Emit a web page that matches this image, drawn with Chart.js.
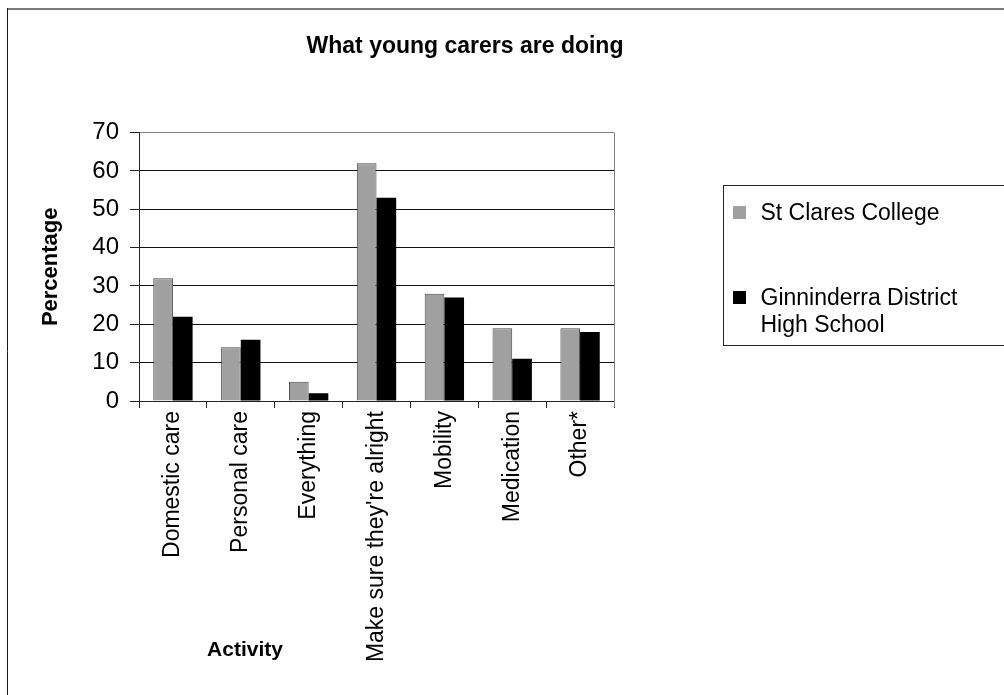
<!DOCTYPE html>
<html>
<head>
<meta charset="utf-8">
<script src="https://cdn.jsdelivr.net/npm/chart.js@4.4.1/dist/chart.umd.min.js"></script>
<style>
  html, body { margin: 0; padding: 0; background: #fff; }
  #wrap { width: 1004px; height: 695px; position: relative; }
</style>
</head>
<body>
<div id="wrap"><canvas id="c" width="1004" height="695"></canvas></div>
<script>
// Chart text
const chartTitle = 'What young carers are doing';
const axisTitleY = 'Percentage';
const axisTitleX = 'Activity';

// Categories and series
const activities = ['Domestic care', 'Personal care', 'Everything', "Make sure they're alright", 'Mobility', 'Medication', 'Other*'];
const seriesNames = ['St Clares College', 'Ginninderra District High School'];
const stClares = [32, 14, 5, 62, 28, 19, 19];
const ginninderra = [22, 16, 2, 53, 27, 11, 18];
const yTicks = [0, 10, 20, 30, 40, 50, 60, 70];

const FONT = "'Liberation Sans', Arial, Helvetica, sans-serif";

// Page frame: grey rule along the top, dark rule down the left side
const pageFrame = {
  id: 'pageFrame',
  beforeDraw(chart) {
    const ctx = chart.ctx;
    ctx.save();
    ctx.fillStyle = '#fff';
    ctx.fillRect(0, 0, chart.width, chart.height);
    ctx.strokeStyle = '#7a7a7a';
    ctx.lineWidth = 2;
    ctx.beginPath();
    ctx.moveTo(7, 9);
    ctx.lineTo(chart.width, 9);
    ctx.stroke();
    ctx.strokeStyle = '#1a1a1a';
    ctx.lineWidth = 1;
    ctx.beginPath();
    ctx.moveTo(7.5, 8);
    ctx.lineTo(7.5, chart.height);
    ctx.stroke();
    ctx.restore();
  }
};

// Grey right-hand edge of the plot area
const plotEdge = {
  id: 'plotEdge',
  beforeDatasetsDraw(chart) {
    const { ctx, chartArea } = chart;
    const x = Math.round(chartArea.right) + 0.5;
    ctx.save();
    ctx.strokeStyle = '#808080';
    ctx.lineWidth = 1;
    ctx.beginPath();
    ctx.moveTo(x, chartArea.top);
    ctx.lineTo(x, chartArea.bottom + 6);
    ctx.stroke();
    ctx.restore();
  }
};

// Category axis caption, sitting beside the rotated labels
const categoryCaption = {
  id: 'categoryCaption',
  afterDraw(chart) {
    const { ctx, chartArea } = chart;
    ctx.save();
    ctx.fillStyle = '#000';
    ctx.font = 'bold 21px ' + FONT;
    ctx.textAlign = 'center';
    ctx.textBaseline = 'middle';
    ctx.fillText(axisTitleX, chartArea.left + 106, 650);
    ctx.restore();
  }
};

// Boxed legend to the right of the plot, with wrapped series names
const sideLegend = {
  id: 'sideLegend',
  afterDraw(chart) {
    const { ctx, chartArea } = chart;
    const boxX = Math.round(chartArea.right) + 109.5;
    const boxTop = 185.5, boxBottom = 345.5;
    ctx.save();
    ctx.strokeStyle = '#222';
    ctx.lineWidth = 1;
    ctx.strokeRect(boxX, boxTop, chart.width + 20 - boxX, boxBottom - boxTop);

    ctx.font = '23px ' + FONT;
    ctx.textBaseline = 'alphabetic';
    ctx.textAlign = 'left';
    const maxW = 215;
    const rowBases = [220, 305];
    chart.data.datasets.forEach((ds, i) => {
      const base = rowBases[i];
      ctx.fillStyle = ds.backgroundColor;
      ctx.fillRect(boxX + 9.5, base - 14, 13, 13);
      // word wrap
      const words = ds.label.split(' ');
      const lines = [];
      let cur = '';
      words.forEach(w => {
        const test = cur ? cur + ' ' + w : w;
        if (ctx.measureText(test).width > maxW && cur) { lines.push(cur); cur = w; }
        else cur = test;
      });
      if (cur) lines.push(cur);
      ctx.fillStyle = '#000';
      lines.forEach((ln, k) => ctx.fillText(ln, boxX + 37, base + k * 27));
    });
    ctx.restore();
  }
};

new Chart(document.getElementById('c'), {
  type: 'bar',
  data: {
    labels: activities,
    datasets: [
      {
        label: seriesNames[0],
        data: stClares,
        backgroundColor: '#a0a0a0',
        borderColor: '#4a4a4a',
        borderWidth: { top: 1, left: 1, right: 1, bottom: 0 },
        xAxisID: 'x', yAxisID: 'y'
      },
      {
        label: seriesNames[1],
        data: ginninderra,
        backgroundColor: '#000000',
        borderColor: '#000000',
        borderWidth: 0,
        xAxisID: 'x', yAxisID: 'y'
      }
    ]
  },
  options: {
    responsive: false,
    animation: false,
    devicePixelRatio: 1,
    layout: { padding: { left: 0, right: 74, top: 0, bottom: 0 } },
    datasets: { bar: { categoryPercentage: 0.58, barPercentage: 1 } },
    plugins: {
      legend: { display: false },
      tooltip: { enabled: false },
      title: {
        display: true,
        text: chartTitle,
        color: '#000',
        font: { family: FONT, size: 23, weight: 'bold' },
        padding: { top: 33, bottom: 72 }
      }
    },
    scales: {
      x: {
        type: 'category',
        offset: true,
        grid: {
          offset: true,
          drawOnChartArea: false,
          drawTicks: true,
          tickLength: 7,
          tickColor: '#222'
        },
        border: { display: true, color: '#222', width: 1 },
        ticks: {
          color: '#000',
          font: { family: FONT, size: 23 },
          minRotation: 90,
          maxRotation: 90,
          autoSkip: false,
          padding: 3
        },
        afterFit(scale) { scale.height = 294; }
      },
      y: {
        type: 'linear',
        position: 'left',
        min: 0,
        max: 70,
        afterBuildTicks(scale) { scale.ticks = yTicks.map(v => ({ value: v })); },
        grid: {
          color: ctx => (ctx.tick && ctx.tick.value === 70) ? '#808080' : '#111',
          lineWidth: 1,
          drawTicks: true,
          tickLength: 9,
          tickColor: '#222'
        },
        border: { display: true, color: '#222', width: 1 },
        ticks: {
          color: '#000',
          font: { family: FONT, size: 24 },
          padding: 11
        },
        title: {
          display: true,
          text: axisTitleY,
          color: '#000',
          font: { family: FONT, size: 22, weight: 'bold' },
          padding: { top: 38, bottom: 0 }
        },
        afterFit(scale) { scale.width = 139; }
      },
      legendSpace: {
        type: 'linear',
        position: 'right',
        display: true,
        grid: { display: false },
        border: { display: false },
        ticks: { display: false },
        afterFit(scale) { scale.width = 316; }
      }
    }
  },
  plugins: [pageFrame, plotEdge, categoryCaption, sideLegend]
});
</script>
</body>
</html>
